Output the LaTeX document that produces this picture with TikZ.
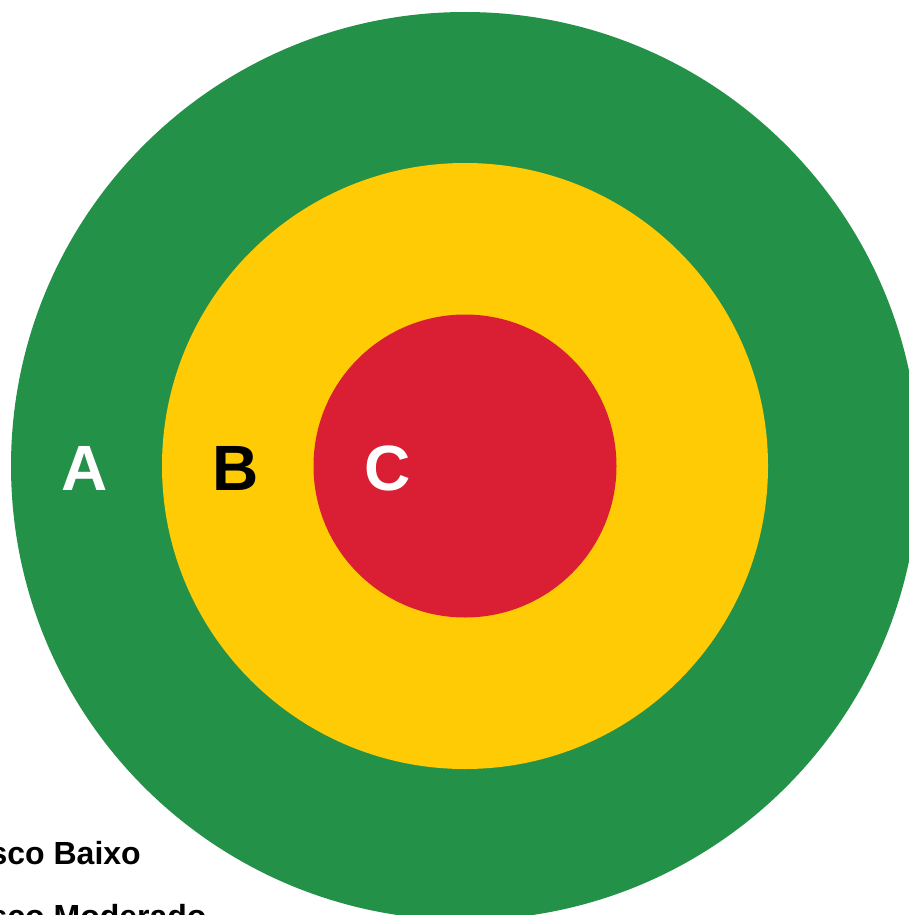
\documentclass[tikz,border=0pt]{standalone}
\usepackage{fontspec}
\setmainfont{Liberation Sans}
\definecolor{rgreen}{HTML}{239148}
\definecolor{ryellow}{HTML}{FECB05}
\definecolor{rred}{HTML}{DA1F35}
\begin{document}
\begin{tikzpicture}[x=1pt,y=-1pt,
  ring/.style={draw=none,circle,inner sep=0pt},
  bigletter/.style={font=\fontsize{64}{64}\selectfont\bfseries,inner sep=0pt},
  legend/.style={font=\fontsize{32}{32}\selectfont\bfseries,inner sep=0pt}]
\useasboundingbox (0,0) rectangle (909,915);
\clip (0,0) rectangle (909,915);
\fill[white] (0,0) rectangle (909,915);
\node[ring,fill=rgreen,minimum size=908pt] (outer) at (465,466) {};
\node[ring,fill=ryellow,minimum size=606pt] (mid) at (465,466) {};
\node[ring,fill=rred,minimum size=303pt] (inner) at (465,466) {};
\node[bigletter,text=white] (A) at (85,468) {A};
\node[bigletter,text=black] (B) at (236,468) {B};
\node[bigletter,text=white] (C) at (388,468) {C};
\node[legend,anchor=base east] (l1) at (141,864) {Risco Baixo};
\node[legend,anchor=base west] (l2) at ([yshift=-63pt]l1.base west) {Risco Moderado};
\end{tikzpicture}
\end{document}
